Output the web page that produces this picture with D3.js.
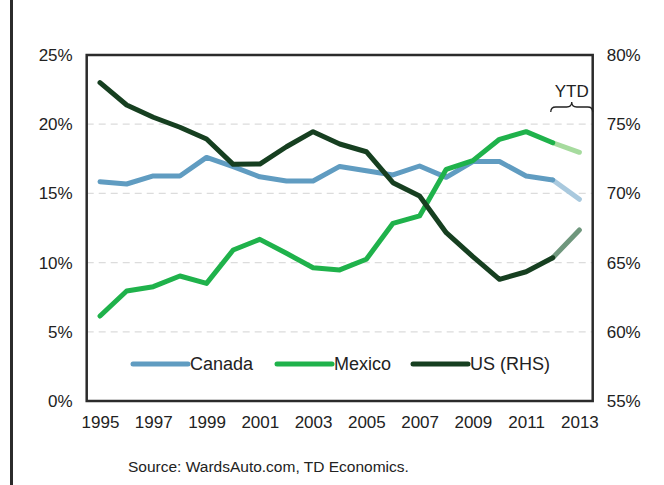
<!DOCTYPE html>
<html>
<head>
<meta charset="utf-8">
<script src="https://cdn.jsdelivr.net/npm/d3@7"></script>
<style>
  body { margin: 0; background: #fff; }
  text { font-family: "Liberation Sans", Arial, sans-serif; fill: #222; }
</style>
</head>
<body>
<div id="chart"></div>
<script>
// vehicle production shares, % of North American total
let years = d3.range(1995, 2014);
let canada = [15.85, 15.68, 16.26, 16.26, 17.6, 16.93, 16.2, 15.9, 15.9, 16.95, 16.64, 16.33, 16.98, 16.16, 17.3, 17.3, 16.26, 15.97, 14.57];
let mexico = [6.14, 7.95, 8.26, 9.03, 8.5, 10.91, 11.68, 10.67, 9.63, 9.47, 10.24, 12.84, 13.37, 16.74, 17.37, 18.91, 19.46, 18.66, 17.97];
let us = [78.0, 76.39, 75.5, 74.78, 73.93, 72.1, 72.12, 73.37, 74.46, 73.57, 73.01, 70.77, 69.81, 67.16, 65.43, 63.79, 64.34, 65.35, 67.36];
let leftTicks = [0, 5, 10, 15, 20, 25];
let rightTicks = [55, 60, 65, 70, 75, 80];
let xTicks = [1995, 1997, 1999, 2001, 2003, 2005, 2007, 2009, 2011, 2013];
let ytdStart = 2012;

let sizes = {width: 664, height: 485, left: 86.7, right: 592.7, top: 55, bottom: 401};

let series = [
    {name: 'Canada', values: canada, axis: 'left', color: '#609cc1', light: '#a9c9de'},
    {name: 'Mexico', values: mexico, axis: 'left', color: '#1fb24b', light: '#a6db9e'},
    {name: 'US (RHS)', values: us, axis: 'right', color: '#163f20', light: '#6f977d'}
];

let svg = d3.select('#chart').append('svg')
    .attr('width', sizes.width)
    .attr('height', sizes.height);

// left border rule of the page
svg.append('rect')
    .attr('x', 10).attr('y', 0)
    .attr('width', 3).attr('height', sizes.height)
    .attr('fill', '#2b2b2b');

let x = d3.scalePoint().domain(years).range([sizes.left, sizes.right]).padding(0.5);
let yL = d3.scaleLinear().domain([0, 25]).range([sizes.bottom, sizes.top]);
let yR = d3.scaleLinear().domain([55, 80]).range([sizes.bottom, sizes.top]);

// gridlines
svg.append('g')
    .selectAll('line')
    .data(leftTicks.filter(d => d > 0 && d < 25))
    .enter().append('line')
    .attr('x1', sizes.left).attr('x2', sizes.right)
    .attr('y1', d => yL(d)).attr('y2', d => yL(d))
    .attr('stroke', '#dcdcdc')
    .attr('stroke-width', 1.2)
    .attr('stroke-dasharray', '7,5');

function styleAxis(g) {
    g.select('.domain').remove();
    g.selectAll('text').attr('font-size', 17).attr('fill', '#222')
        .attr('font-family', '"Liberation Sans", Arial, sans-serif');
}

svg.append('g')
    .attr('transform', `translate(${sizes.left},0)`)
    .call(d3.axisLeft(yL).tickValues(leftTicks).tickSize(0).tickPadding(14).tickFormat(d => d + '%'))
    .call(styleAxis);

svg.append('g')
    .attr('transform', `translate(${sizes.right},0)`)
    .call(d3.axisRight(yR).tickValues(rightTicks).tickSize(0).tickPadding(14).tickFormat(d => d + '%'))
    .call(styleAxis);

svg.append('g')
    .attr('transform', `translate(0,${sizes.bottom})`)
    .call(d3.axisBottom(x).tickValues(xTicks).tickSize(0).tickPadding(15))
    .call(styleAxis);

// series lines: solid history, lighter YTD segment
series.forEach(s => {
    let y = s.axis === 'left' ? yL : yR;
    let pts = years.map((yr, i) => [x(yr), y(s.values[i])]);
    let cut = years.indexOf(ytdStart);
    let line = d3.line();
    svg.append('path')
        .attr('d', line(pts.slice(cut)))
        .attr('fill', 'none')
        .attr('stroke', s.light)
        .attr('stroke-width', 5)
        .attr('stroke-linecap', 'round');
    svg.append('path')
        .attr('d', line(pts.slice(0, cut + 1)))
        .attr('fill', 'none')
        .attr('stroke', s.color)
        .attr('stroke-width', 5)
        .attr('stroke-linejoin', 'round')
        .attr('stroke-linecap', 'round');
});

// plot frame
svg.append('rect')
    .attr('x', sizes.left).attr('y', sizes.top)
    .attr('width', sizes.right - sizes.left)
    .attr('height', sizes.bottom - sizes.top)
    .attr('fill', 'none')
    .attr('stroke', '#2b2b2b')
    .attr('stroke-width', 2.5);

// YTD brace
let bx0 = x(ytdStart) - 2, bx1 = sizes.right, bm = (bx0 + bx1) / 2, by = 107;
svg.append('path')
    .attr('d', `M${bx0},${by + 5} Q${bx0},${by} ${bx0 + 5},${by} L${bm - 5},${by} Q${bm},${by} ${bm},${by - 5}` +
        ` Q${bm},${by} ${bm + 5},${by} L${bx1 - 5},${by} Q${bx1},${by} ${bx1},${by + 5}`)
    .attr('fill', 'none')
    .attr('stroke', '#222')
    .attr('stroke-width', 1.3);
svg.append('text')
    .attr('x', bm).attr('y', 97)
    .attr('text-anchor', 'middle')
    .attr('font-size', 17)
    .text('YTD');

// legend
let legX = [133, 277, 413];
let legY = 364;
let leg = svg.append('g');
series.forEach((s, i) => {
    leg.append('line')
        .attr('x1', legX[i]).attr('x2', legX[i] + 55)
        .attr('y1', legY).attr('y2', legY)
        .attr('stroke', s.color)
        .attr('stroke-width', 5)
        .attr('stroke-linecap', 'round');
    leg.append('text')
        .attr('x', legX[i] + 57).attr('y', legY)
        .attr('dy', '0.35em')
        .attr('font-size', 18)
        .text(s.name);
});

svg.append('text')
    .attr('x', 128).attr('y', 472)
    .attr('font-size', 15.5)
    .text('Source: WardsAuto.com, TD Economics.');
</script>
</body>
</html>
